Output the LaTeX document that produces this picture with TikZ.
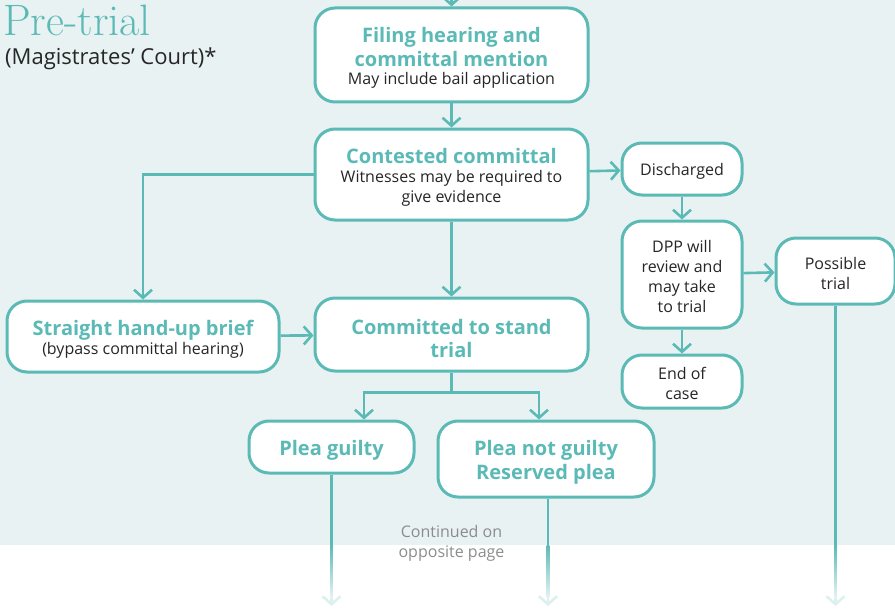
\documentclass[tikz,border=0pt]{standalone}
\usepackage{fontspec}
\setmainfont{Open Sans}
\newfontfamily\slabfont{Latin Modern Roman}
\usepackage{xcolor}
\usetikzlibrary{arrows.meta,positioning,calc}
\definecolor{Teal}{HTML}{5BBAB5}
\definecolor{Mist}{HTML}{E8F2F3}
\definecolor{Ink}{HTML}{262626}
\definecolor{Slate}{HTML}{8C8C8C}
\newcommand{\head}[1]{{\fontsize{20}{24}\selectfont\bfseries\color{Teal}\raisebox{-3.5pt}[\height][\depth]{#1}}}
\newcommand{\note}[1]{{\fontsize{16}{20}\selectfont\color{Ink}\raisebox{-2pt}[\height][\depth]{#1}}}
\newcommand{\fadedrop}[1]{
  \draw[Teal!22, line width=2.6pt, -{Straight Barb[length=8pt,width=18pt]}] ($(#1)+(0,50)$) -- ($(#1)+(0,61)$);
  \shade[top color=Teal, bottom color=Teal!18] ($(#1)+(-1.3,0)$) rectangle ($(#1)+(1.3,52)$);
}

\begin{document}
\begin{tikzpicture}[x=1pt,y=-1pt,
  box/.style={draw=Teal, line width=3pt, fill=white, rounded corners=20pt, align=center, inner sep=3pt, font=\fontsize{16}{20}\selectfont},
  link/.style={Teal, line width=2.6pt, -{Straight Barb[length=8pt,width=18pt]}},
  wire/.style={Teal, line width=2.6pt}]
        \useasboundingbox (0,0) rectangle (895,610);
        \fill[Mist] (0,0) rectangle (895,545);
        \node[anchor=base west, inner sep=0, text=Teal, font=\slabfont\fontsize{44}{44}\selectfont] (title) at (3,36) {Pre-trial};
        \node[anchor=base west, inner sep=0, text=Ink, font=\fontsize{22}{26}\selectfont] (court) at (5,65) {(Magistrates’ Court)*};

        \node[box, minimum width=273, minimum height=94] (file) at (451.5,55) {\head{Filing hearing and}\\[4pt]\head{committal mention}\\\note{May include bail application}};
        \node[box, minimum width=273, minimum height=91] (contest) at (451.5,174.5) {\head{Contested committal}\\[1pt]\note{Witnesses may be required to}\\\note{give evidence}};
        \node[box, minimum width=120, minimum height=52] (disch) at (682,169) {\note{Discharged}};
        \node[box, minimum width=120, minimum height=107] (dpp) at (682,274.5) {\note{DPP will}\\\note{review and}\\\note{may take}\\\note{to trial}};
        \node[box, minimum width=119, minimum height=66] (possible) at (835.5,271) {\note{Possible}\\\note{trial}};
        \node[box, minimum width=120, minimum height=53] (endcase) at (682,381.5) {\note{End of}\\\note{case}};
        \node[box, minimum width=272, minimum height=71] (straight) at (143,336.5) {\head{Straight hand-up brief}\\[0pt]\note{(bypass committal hearing)}};
        \node[box, minimum width=273, minimum height=73] (committed) at (451.5,334.5) {\head{Committed to stand}\\[3pt]\head{trial}};
        \node[box, minimum width=165, minimum height=52] (pguilty) at (331.5,447) {\head{Plea guilty}};
        \node[box, minimum width=216, minimum height=76] (pnot) at (546,459) {\head{Plea not guilty}\\[4pt]\head{Reserved plea}};

        \node[text=Slate, align=center, font=\fontsize{16}{20}\selectfont] (cont) at (451.5,543) {Continued on\\opposite page};

        \coordinate (entry) at (451.5,-6);
        \draw[link] (entry) -- (file);
        \draw[link] (file) -- (contest);
        \draw[link] (contest) -- (disch);
        \draw[link] (disch) -- (dpp);
        \draw[link] (dpp) -- (possible);
        \draw[link] (dpp) -- (endcase);
        \draw[link] (contest.west) -| (straight.north);
        \draw[link] (contest) -- (committed);
        \draw[link] (straight) -- (committed);
        \draw[wire] (committed.south) -- ++(0,20) coordinate (split);
        \draw[link] (split) -| ([xshift=32.5pt]pguilty.north);
        \draw[link] (split) -| ([xshift=-7pt]pnot.north);

        \coordinate (gdrop) at (pguilty.south |- 0,545);
        \coordinate (ndrop) at ([xshift=2pt]pnot.south |- 0,545);
        \coordinate (tdrop) at (possible.south |- 0,545);
        \draw[wire] (pguilty) -- (gdrop);
        \draw[wire] ([xshift=2pt]pnot.south) -- (ndrop);
        \draw[wire] (possible) -- (tdrop);
        \fadedrop{gdrop}
        \fadedrop{ndrop}
        \fadedrop{tdrop}
      \end{tikzpicture}
\end{document}
